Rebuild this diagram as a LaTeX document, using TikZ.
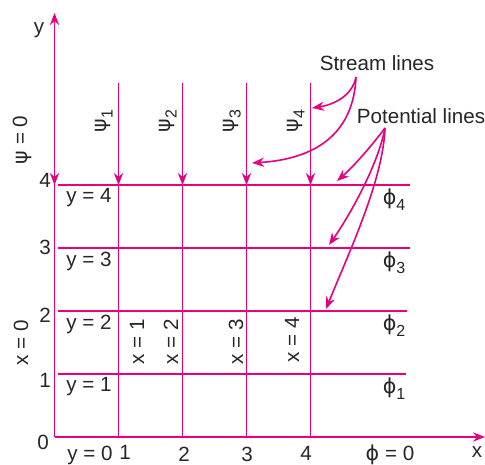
\documentclass[tikz,border=0pt]{standalone}
\usepackage{fontspec}
\setmainfont{Liberation Sans}
\newfontfamily\grk{DejaVu Sans}
\usetikzlibrary{arrows.meta}
\definecolor{flowpink}{HTML}{E6007E}
\newcommand\sbs[1]{\raisebox{-0.55ex}{\fontsize{8}{8}\selectfont #1}}
\newcommand\gpsi{{\grk ψ}}
\newcommand\gphi{{\grk ϕ}}

\begin{document}
\begin{tikzpicture}[x=0.5pt, y=-0.5pt,
  gline/.style = {draw=flowpink, line width=0.8pt},
  arr/.style   = {-{Stealth[length=6pt,width=4.6pt]},
                  draw=flowpink, line width=0.8pt},
  lbl/.style   = {font=\fontsize{10.3}{12}\selectfont, text=black!85, inner sep=0pt},
  rlbl/.style  = {lbl, rotate=90},
]
\useasboundingbox (0,0) rectangle (485,464);

% axes
\coordinate (O) at (54.5,437);
\coordinate (ytop) at (54.5,13);
\coordinate (xend) at (485,437);
\draw[arr] (O) -- (ytop);
\draw[arr] (O) -- (xend);

% stream lines psi = 0 ... 4
\foreach \i in {0,...,4} {
  \coordinate (s\i top) at ({54.5+64*\i},83);
  \coordinate (s\i mid) at ({54.5+64*\i},185);
  \coordinate (s\i bot) at ({54.5+64*\i},437);
  \draw[arr] (s\i top) -- (s\i mid);
}
\foreach \i in {1,...,4}
  \draw[gline] (s\i mid) -- (s\i bot);

% potential lines
\foreach \j/\r in {1/406,2/407,3/410,4/410} {
  \coordinate (p\j l) at (58,{437-63*\j});
  \coordinate (p\j r) at (\r,{437-63*\j});
  \draw[gline] (p\j l) -- (p\j r);
}

% axis labels and ticks
\node[lbl] (ylab) at (39,30) {y};
\node[lbl] (xlab) at (477,452) {x};
\node[rlbl] (psi0) at (22,140) {\gpsi{} = 0};
\node[rlbl] (x0) at (21,343) {x = 0};
\node[lbl] (t0) at (43,442) {0};
\foreach \j/\h in {1/380,2/315,3/247,4/180}
  \node[lbl] (ty\j) at (45,\h) {\j};
\node[lbl] (tx1) at (125,452) {1};
\node[lbl] (tx2) at (184,454) {2};
\node[lbl] (tx3) at (247,454) {3};
\node[lbl] (tx4) at (306,453) {4};
\node[lbl] (yzero) at (90,455) {y = 0};
\node[lbl] (phizero) at (390,455) {\gphi{} = 0};

% psi labels
\foreach \i in {1,...,4}
  \node[rlbl] (psi\i) at ({40+64*\i},121) {\gpsi\sbs{\i}};

% y = const labels
\foreach \j in {1,...,4}
  \node[lbl] (yl\j) at (89,{450-63*\j}) {y = \j};

% x = const labels
\node[rlbl] (xl1) at (137,342) {x = 1};
\node[rlbl] (xl2) at (171,342) {x = 2};
\node[rlbl] (xl3) at (236,342) {x = 3};
\node[rlbl] (xl4) at (292,340) {x = 4};

% phi labels
\foreach \j in {1,...,4}
  \node[lbl] (phi\j) at (394,{452-63*\j}) {\gphi\sbs{\j}};

% callouts
\node[lbl] (stream) at (377,63) {Stream lines};
\node[lbl] (potential) at (421,116) {Potential lines};
\coordinate (sa) at (356,77);
\coordinate (pa) at (385,128);
\coordinate (sa1) at (312,108);
\coordinate (sa2) at (252,163);
\coordinate (pa1) at (337,181);
\coordinate (pa2) at (329,245);
\coordinate (pa3) at (326,309);
\draw[arr] (sa) .. controls (352,97) and (332,105) .. (sa1);
\draw[arr] (sa) .. controls (353,145) and (300,160) .. (sa2);
\draw[arr] (pa) .. controls (370,148) and (352,168) .. (pa1);
\draw[arr] (pa) .. controls (378,165) and (350,215) .. (pa2);
\draw[arr] (pa) .. controls (383,180) and (350,250) .. (pa3);
\end{tikzpicture}
\end{document}
